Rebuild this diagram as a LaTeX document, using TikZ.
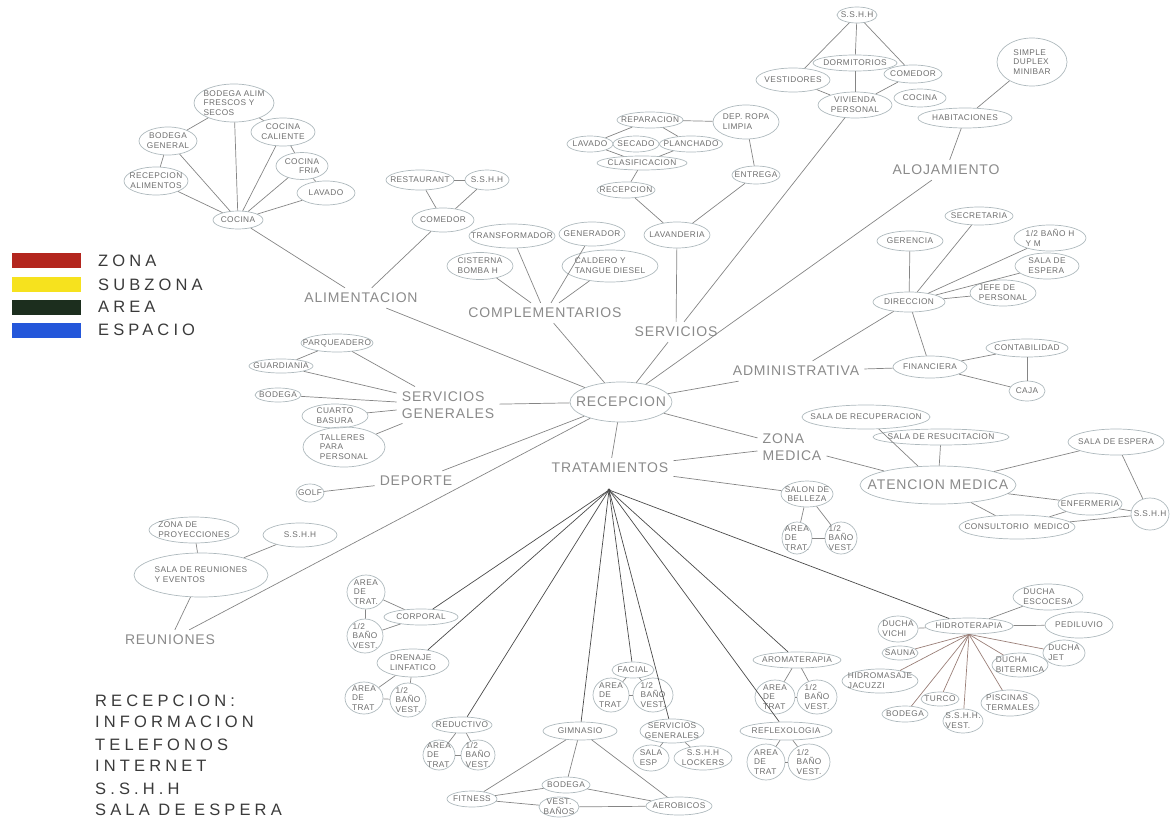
\documentclass[tikz,border=0pt]{standalone}
\usepackage{fontspec}
\setmainfont{Liberation Sans}
\newfontfamily\smf[LetterSpace=5]{Liberation Sans}
\newfontfamily\bgf[LetterSpace=6]{Liberation Sans}
\newfontfamily\hdf[LetterSpace=25]{Liberation Sans}
\usetikzlibrary{shapes.geometric}
\definecolor{elc}{HTML}{AEB9BD}
\definecolor{txc}{HTML}{6E6E6E}
\definecolor{bgc}{HTML}{8A8A8A}
\definecolor{lnc}{HTML}{858585}
\definecolor{fnc}{HTML}{4A4A4A}
\definecolor{spc}{HTML}{9A7F78}
\definecolor{hdc}{HTML}{3A3A3A}
\definecolor{zred}{HTML}{B3261E}
\definecolor{zyel}{HTML}{F6E21E}
\definecolor{zgrn}{HTML}{1C2E1E}
\definecolor{zblu}{HTML}{2457DA}
\newcommand\mkel[6][center]{%
  \node[el,minimum width=#4,minimum height=#5] (#2) at (#3) {};
  \node[lab,align=#1] (#2t) at (#2.center) {#6};}
\begin{document}
\begin{tikzpicture}[x=1pt,y=-1pt,
  el/.style={ellipse,draw=elc,line width=0.7pt,inner sep=0pt},
  lab/.style={font=\smf\fontsize{8.3}{9.8}\selectfont,text=txc,inner sep=0pt},
  big/.style={font=\bgf\fontsize{14}{16.5}\selectfont,text=bgc,inner sep=5pt},
  ln/.style={draw=lnc,line width=0.7pt},
  fan/.style={draw=fnc,line width=0.7pt},
  spk/.style={draw=spc,line width=0.7pt},
  hand/.style={font=\hdf\fontsize{16.5}{20}\selectfont,text=hdc,anchor=west,inner sep=0pt}]
\useasboundingbox (0,0) rectangle (1170,819);

% legend
\fill[zred] (12,253) rectangle (81,268);
\fill[zyel] (12,277) rectangle (81,292);
\fill[zgrn] (12,300) rectangle (81,315);
\fill[zblu] (12,323) rectangle (81,338);
\node[hand] (lz) at (98,261) {ZONA};
\node[hand] (ls) at (98,285) {SUBZONA};
\node[hand] (la) at (98,307) {AREA};
\node[hand] (le) at (98,330) {ESPACIO};

\node[hand] (r1) at (95,701) {RECEPCION:};
\node[hand] (r2) at (95,722) {INFORMACION};
\node[hand] (r3) at (95,745) {TELEFONOS};
\node[hand] (r4) at (95,766) {INTERNET};
\node[hand] (r5) at (95,789) {S.S.H.H};
\node[hand] (r6) at (95,810) {SALA DE ESPERA};

% ALIMENTACION
\mkel[left]{balim}{234,103}{80}{38}{BODEGA ALIM\\FRESCOS Y\\SECOS}
\mkel{bgen}{168,141}{58}{28}{BODEGA\\GENERAL}
\mkel{ccal}{283,132}{64}{28}{COCINA\\CALIENTE}
\mkel[right]{cfria}{302,166}{52}{27}{COCINA\\FRIA}
\mkel{ralim}{156,181}{64}{28}{RECEPCION\\ALIMENTOS}
\mkel{lavado1}{326,193}{58}{24}{LAVADO}
\mkel{cocina}{238,220}{50}{18}{COCINA}
\mkel{rest}{420,180}{68}{20}{RESTAURANT}
\mkel{sshh1}{487,180}{44}{20}{S.S.H.H}
\mkel{comedor}{443,220}{62}{24}{COMEDOR}
\node[big] (alim) at (361,298) {ALIMENTACION};

% COMPLEMENTARIOS
\mkel{transf}{512,236}{86}{24}{TRANSFORMADOR}
\mkel{gener}{592,234}{66}{24}{GENERADOR}
\mkel[left]{cist}{480,266}{66}{27}{CISTERNA\\BOMBA H}
\mkel[left]{cald}{610,266}{96}{32}{CALDERO Y\\TANGUE DIESEL}
\node[big] (compl) at (545,313) {COMPLEMENTARIOS};

% SERVICIOS
\mkel{lavand}{677,235}{66}{26}{LAVANDERIA}
\mkel{recl}{626,190}{58}{16}{RECEPCION}
\mkel{clas}{642,163}{90}{14}{CLASIFICACION}
\mkel{lavb}{590,144}{46}{16}{LAVADO}
\mkel{sec}{636,144}{46}{16}{SECADO}
\mkel{plan}{691,144}{63}{16}{PLANCHADO}
\mkel{repar}{650,120}{66}{16}{REPARACION}
\mkel[left]{dep}{746,122}{66}{34}{DEP. ROPA\\LIMPIA}
\mkel{entrega}{756,175}{48}{18}{ENTREGA}
\node[big] (serv) at (676,332) {SERVICIOS};

% ALOJAMIENTO
\mkel{sshh2}{857,15}{40}{16}{S.S.H.H}
\mkel{dorm}{855,63}{84}{16}{DORMITORIOS}
\mkel{vest}{793,80}{74}{24}{VESTIDORES}
\mkel{comv}{913,74}{58}{18}{COMEDOR}
\mkel{viv}{855,105}{74}{26}{VIVIENDA\\PERSONAL}
\mkel{cocv}{920,98}{52}{18}{COCINA}
\mkel[left]{simple}{1032,62}{70}{48}{SIMPLE\\DUPLEX\\MINIBAR}
\mkel{habit}{965,118}{94}{20}{HABITACIONES}
\node[big] (aloj) at (946,170) {ALOJAMIENTO};

% ADMINISTRATIVA
\mkel{secr}{979,216}{68}{18}{SECRETARIA}
\mkel{ger}{910,241}{66}{20}{GERENCIA}
\mkel[left]{mbano}{1050,238}{72}{26}{1/2 BAÑO H\\Y M}
\mkel[left]{sesp}{1047,266}{64}{26}{SALA DE\\ESPERA}
\mkel[left]{jefe}{1003,293}{66}{26}{JEFE DE\\PERSONAL}
\mkel{dir}{909,302}{72}{20}{DIRECCION}
\mkel{cont}{1027,348}{82}{18}{CONTABILIDAD}
\mkel{fin}{930,367}{74}{22}{FINANCIERA}
\mkel{caja}{1027,391}{36}{20}{CAJA}
\node[big] (admin) at (796,371) {ADMINISTRATIVA};

% ZONA MEDICA
\mkel{srecup}{866,417}{128}{24}{SALA DE RECUPERACION}
\mkel{sresuc}{941,437}{136}{16}{SALA DE RESUCITACION}
\node[el,minimum width=156,minimum height=38] (aten) at (938,485) {};
\node[big,inner sep=0pt] (atent) at (aten.center) {ATENCION MEDICA};
\mkel{sespm}{1116,442}{96}{26}{SALA DE ESPERA}
\mkel{enf}{1090,504}{64}{22}{ENFERMERIA}
\mkel{cons}{1017,527}{116}{24}{CONSULTORIO\ \ MEDICO}
\mkel{sshhm}{1150,514}{38}{32}{S.S.H.H}
\node[big,align=left] (zmed) at (792,447) {ZONA\\MEDICA};
\mkel{salon}{807,494}{52}{26}{SALON DE\\BELLEZA}
\mkel[left]{sa}{797,538}{30}{32}{AREA\\DE\\TRAT.}
\mkel[left]{sb}{841,538}{32}{32}{1/2\\BAÑO\\VEST.}

% RECEPCION
\node[el,minimum width=102,minimum height=40] (recep) at (621,402) {};
\node[big,inner sep=0pt] (recept) at (recep.center) {RECEPCION};
\node[big] (trat) at (610,468) {TRATAMIENTOS};
\coordinate (hub) at (609,490);

% SERVICIOS GENERALES
\mkel{parq}{337,343}{72}{18}{PARQUEADERO}
\mkel{guard}{281,366}{64}{14}{GUARDIANIA}
\mkel{bodsg}{278,395}{46}{14}{BODEGA}
\mkel[left]{cuarto}{335,416}{66}{24}{CUARTO\\BASURA}
\mkel[left]{taller}{344,447}{82}{40}{TALLERES\\PARA\\PERSONAL}
\node[big,align=left] (sgen) at (448,405) {SERVICIOS\\GENERALES};
\mkel{golf}{310,493}{28}{18}{GOLF}
\node[big] (deporte) at (416,481) {DEPORTE};

% REUNIONES
\mkel[left]{zproy}{194,530}{90}{26}{ZONA DE\\PROYECCIONES}
\mkel{sshhr}{300,535}{74}{24}{S.S.H.H}
\mkel[left]{sreun}{201,575}{134}{44}{SALA DE REUNIONES\\Y EVENTOS}
\node[big] (reun) at (170,640) {REUNIONES};

% TRATAMIENTOS
\mkel{corp}{421,617}{74}{16}{CORPORAL}
\mkel[left]{ca}{366,592}{38}{34}{AREA\\DE\\TRAT.}
\mkel[left]{cb}{365,636}{36}{34}{1/2\\BAÑO\\VEST.}
\mkel[left]{dren}{413,663}{72}{28}{DRENAJE\\LINFATICO}
\mkel[left]{da}{364,698}{38}{32}{AREA\\DE\\TRAT}
\mkel[left]{db}{408,700}{36}{34}{1/2\\BAÑO\\VEST.}
\mkel{redu}{462,725}{60}{16}{REDUCTIVO}
\mkel[left]{ra}{439,755}{32}{30}{AREA\\DE\\TRAT}
\mkel[left]{rb}{478,755}{34}{30}{1/2\\BAÑO\\VEST.}
\mkel{gim}{580,731}{74}{18}{GIMNASIO}
\mkel{fit}{472,799}{50}{16}{FITNESS}
\mkel{bodg}{566,785}{48}{16}{BODEGA}
\mkel{vestb}{559,807}{40}{20}{VEST.\\BAÑOS}
\mkel{aero}{679,806}{66}{18}{AEROBICOS}
\mkel{fac}{633,670}{42}{16}{FACIAL}
\mkel[left]{fa}{611,695}{36}{34}{AREA\\DE\\TRAT}
\mkel[left]{fb}{653,695}{40}{34}{1/2\\BAÑO\\VEST.}
\mkel{sgt}{672,731}{64}{24}{SERVICIOS\\GENERALES}
\mkel[left]{sesp2}{651,758}{36}{26}{SALA\\ESP}
\mkel{lock}{703,758}{58}{24}{S.S.H.H\\LOCKERS}
\mkel{aroma}{797,660}{88}{16}{AROMATERAPIA}
\mkel[left]{aa}{775,697}{40}{34}{AREA\\DE\\TRAT}
\mkel[left]{ab}{817,697}{40}{34}{1/2\\BAÑO\\VEST.}
\mkel{refl}{786,731}{92}{18}{REFLEXOLOGIA}
\mkel[left]{xa}{766,762}{38}{36}{AREA\\DE\\TRAT}
\mkel[left]{xb}{809,762}{42}{36}{1/2\\BAÑO\\VEST.}
\mkel{hidro}{969,626}{88}{16}{HIDROTERAPIA}
\mkel[left]{desc}{1048,597}{70}{26}{DUCHA\\ESCOCESA}
\mkel{pedi}{1079,625}{68}{26}{PEDILUVIO}
\mkel[left]{dvichi}{898,629}{40}{26}{DUCHA\\VICHI}
\mkel{sauna}{900,653}{36}{14}{SAUNA}
\mkel[left]{jacuz}{880,681}{76}{24}{HIDROMASAJE\\JACUZZI}
\mkel[left]{djet}{1064,653}{42}{26}{DUCHA\\JET}
\mkel[left]{dbit}{1020,665}{56}{24}{DUCHA\\BITERMICA}
\mkel{turco}{940,699}{38}{14}{TURCO}
\mkel{bodh}{905,714}{46}{16}{BODEGA}
\mkel[left]{sshhv}{963,721}{40}{24}{S.S.H.H.\\VEST.}
\mkel[left]{pisc}{1010,703}{58}{26}{PISCINAS\\TERMALES}

% connectors
\foreach \a/\b in {cocina/ralim,cocina/bgen,cocina/balim,cocina/ccal,cocina/cfria,cocina/lavado1,
  balim/bgen,balim/ccal,ccal/cfria,cfria/lavado1,bgen/ralim,cocina/alim,comedor/alim,
  comedor/rest,comedor/sshh1,rest/sshh1,alim/recep,
  cist/compl,transf/compl,gener/compl,cald/compl,compl/recep,
  lavand/serv,serv/viv,serv/recep,recl/lavand,entrega/lavand,dep/entrega,repar/dep,
  repar/lavb,repar/plan,clas/lavb,clas/plan,clas/recl,
  aloj/recep,habit/aloj,simple/habit,sshh2/vest,sshh2/dorm,dorm/viv,sshh2/comv,vest/viv,comv/viv,
  admin/recep,admin/dir,dir/ger,dir/secr,dir/mbano,dir/sesp,dir/jefe,dir/fin,admin/fin,
  fin/cont,fin/caja,cont/caja,
  zmed/recep,zmed/trat,zmed/aten,srecup/aten,sresuc/aten,aten/sespm,sespm/sshhm,aten/enf,
  aten/cons,enf/sshhm,cons/sshhm,cons/enf,trat/salon,salon/sa,salon/sb,sa/sb,
  recep/sgen,recep/deporte,recep/reun,recep/trat,
  parq/guard,parq/sgen,guard/sgen,bodsg/sgen,cuarto/sgen,taller/sgen,golf/deporte,
  zproy/sreun,sshhr/sreun,sreun/reun,
  corp/ca,corp/cb,ca/cb,dren/da,dren/db,da/db,redu/ra,redu/rb,ra/rb,fac/fa,fac/fb,fa/fb,
  sgt/sesp2,sgt/lock,aroma/aa,aroma/ab,aa/ab,refl/xa,refl/xb,xa/xb,
  gim/bodg,gim/fit,gim/aero,fit/bodg,fit/vestb,bodg/aero,vestb/aero,
  hidro/desc,hidro/pedi,hidro/dvichi}
  \draw[ln] (\a) -- (\b);
\foreach \b in {corp,dren,redu,gim,fac,sgt,aroma,refl,hidro}
  \draw[fan] (hub) -- (\b);
\fill[fnc] (hub) circle (1.6);
\foreach \b in {sauna,jacuz,bodh,turco,sshhv,pisc,dbit,djet}
  \draw[spk] (hidro.south) -- (\b);
\end{tikzpicture}
\end{document}
